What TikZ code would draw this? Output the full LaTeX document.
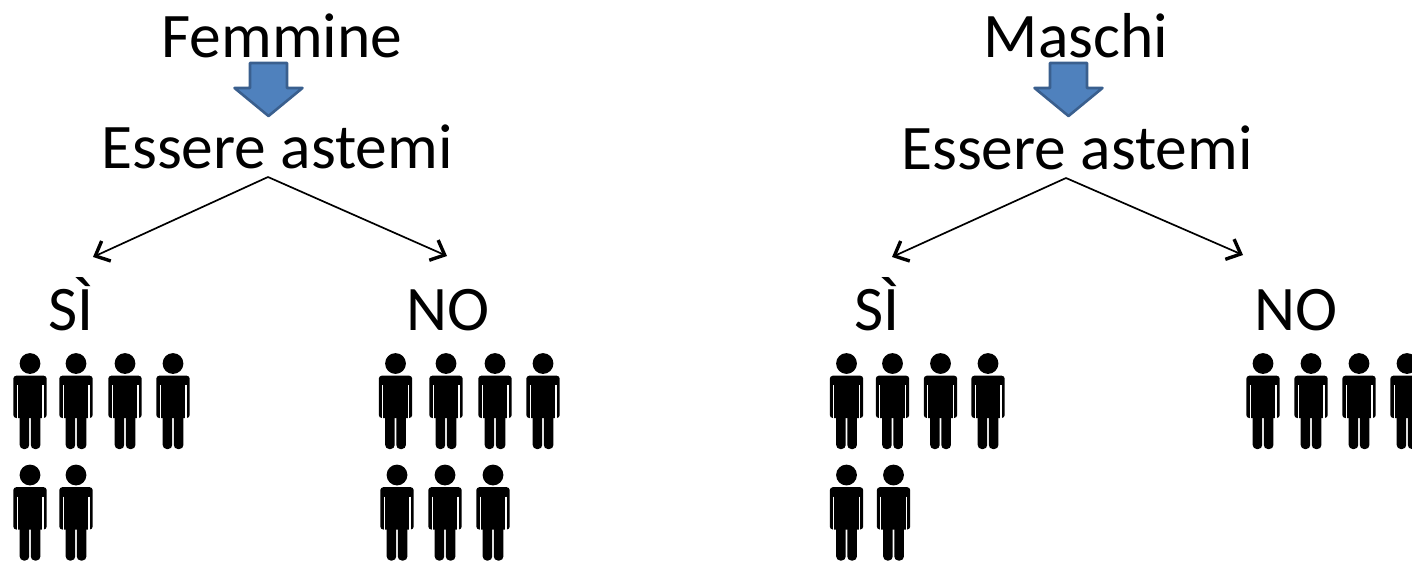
\documentclass[tikz,border=0pt]{standalone}
\usepackage{fontspec}
\setmainfont{Carlito}
\usetikzlibrary{arrows.meta}

\definecolor{arrowblue}{HTML}{4F81BD}
\definecolor{arrowedge}{HTML}{3A5F8E}

\tikzset{
  title/.style={anchor=base,inner sep=0pt,font=\fontsize{63.5}{70}\selectfont},
  branch/.style={line width=1.7pt,-{Straight Barb[length=12pt,width=22pt,line width=3.4pt]}},
  person/.pic={
    \fill (0,0) circle (10.4);
    \fill[rounded corners=3] (-16.7,12.2) rectangle (16.7,54.5);
    \fill[rounded corners=4] (-10.3,45) rectangle (-0.8,85.5);
    \fill[rounded corners=4] (0.8,45) rectangle (10.4,85.5);
    \draw[white,line width=1.4pt] (-12.8,21.5) -- (-12.8,56);
    \draw[white,line width=1.4pt] (12.8,21.5) -- (12.8,56);
  },
  downarrow/.pic={
    \draw[fill=arrowblue,draw=arrowedge,line width=2.6pt,line join=round]
      (-18.5,0) -- (18.5,0) -- (18.5,25) -- (34,25) -- (0,53)
      -- (-34,25) -- (-18.5,25) -- cycle;
  }
}

\begin{document}
\begin{tikzpicture}[x=1pt,y=-1pt]
  \clip (0,0) rectangle (1412,560);

  % femmine
  \node[title] (femmine) at (282,57) {Femmine};
  \pic at (268.5,63) {downarrow};
  \node[title] (esseref) at (277,168) {Essere astemi};
  \node[title] (sif) at (71,330) {SÌ};
  \node[title] (nof) at (448,330) {NO};

  \coordinate (topf) at (268,177);
  \coordinate (endsif) at (93,257);
  \coordinate (endnof) at (447,256);
  \draw[branch] (topf) -- (endsif);
  \draw[branch] (topf) -- (endnof);

  \foreach \x in {30,76,125,173} \pic at (\x,363.5) {person};
  \foreach \x in {30,76} \pic at (\x,475) {person};
  \foreach \x in {395.5,446,495,543} \pic at (\x,363.5) {person};
  \foreach \x in {397,445,493} \pic at (\x,475) {person};

  % maschi
  \node[title] (maschi) at (1076,57) {Maschi};
  \pic at (1068.5,63) {downarrow};
  \node[title] (esserem) at (1077,169) {Essere astemi};
  \node[title] (sim) at (877,330) {SÌ};
  \node[title] (nom) at (1296,330) {NO};

  \coordinate (topm) at (1066,178);
  \coordinate (endsim) at (892,257);
  \coordinate (endnom) at (1243,255);
  \draw[branch] (topm) -- (endsim);
  \draw[branch] (topm) -- (endnom);

  \foreach \x in {846.5,892.5,940.5,988} \pic at (\x,363.5) {person};
  \foreach \x in {846.5,893.5} \pic at (\x,475) {person};
  \foreach \x in {1263,1311,1359,1407} \pic at (\x,363.5) {person};
\end{tikzpicture}
\end{document}
